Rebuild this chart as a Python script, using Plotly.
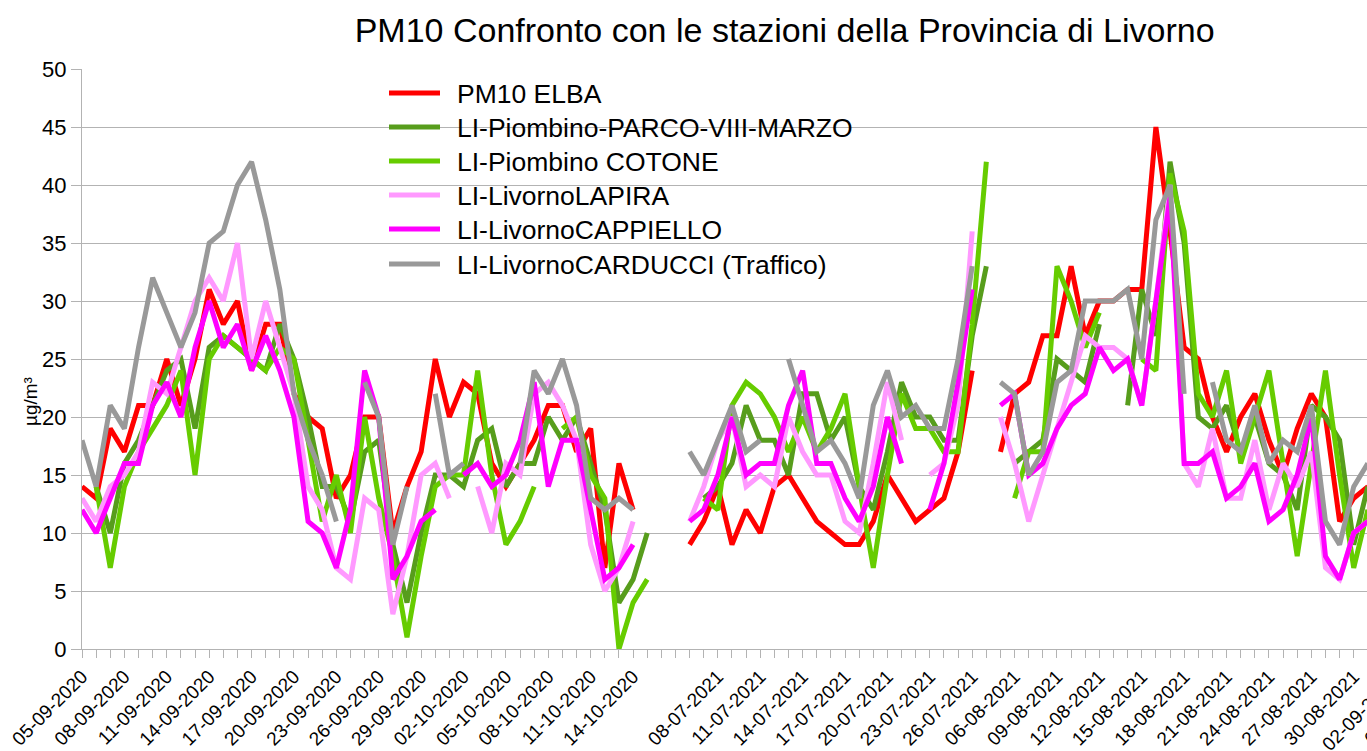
import pandas as pd
import plotly.graph_objects as go

# ---- categories (daily), with two blank slots between 2020 and 2021 ----
seg1 = [d.strftime("%d-%m-%Y") for d in pd.date_range("2020-09-05", "2020-10-15")]
seg2 = [d.strftime("%d-%m-%Y") for d in pd.date_range("2021-07-06", "2021-07-27")]
seg3 = [d.strftime("%d-%m-%Y") for d in pd.date_range("2021-08-05", "2021-09-05")]
categories = seg1 + ["", ""] + seg2 + seg3
N = 92  # categories with data

N_ = None
elba = [14, 13, 19, 17, 21, 21, 25, 21, 25, 31,
        28, 30, 24, 28, 28, 22, 20, 19, 13, 15,
        20, 20, 10, 14, 17, 25, 20, 23, 22, 16,
        14, 16, 18, 21, 21, 17, 19, 7, 16, 12,
        N_, N_, N_,
        9, 11, 14, 9, 12, 10, 14, 15, 13, 11,
        10, 9, 9, 11, 15, 13, 11, 12, 13, 17, 24, N_,
        17, 22, 23, 27, 27, 33, 27, 30, 30, 31,
        31, 45, 36, 26, 25, 20, 17, 20, 22, 18,
        15, 19, 22, 20, 11, 13, 14]
parco = [N_, 14, 10, 16, 18, 21, 24, 25, 19, 26,
         27, 26, 25, 24, 28, 25, 20, 14, 14, 11,
         17, 18, 9, 4, 10, 15, 15, 14, 18, 19,
         14, 16, 16, 20, 18, 20, 16, 12, 4, 6,
         10, N_, N_,
         N_, 13, 14, 16, 21, 18, 18, 15, 22, 22,
         18, 20, 14, 12, 17, 23, 20, 20, 18, 18, 27, 33,
         N_, 16, 17, 18, 25, 24, 23, 28, N_, 21,
         31, 27, 42, 35, 20, 19, 21, 17, 20, 16,
         15, 12, 21, 20, 18, 9, 14]
cotone = [N_, 14, 7, 14, 17, 19, 21, 24, 15, 25,
          27, 26, 25, 24, 26, 25, 18, 11, 15, 10,
          20, 13, 8, 1, 8, 14, 15, 15, 24, 15,
          9, 11, 14, N_, 19, 20, 15, 13, 0, 4,
          6, N_, N_,
          N_, 13, 12, 21, 23, 22, 20, 17, 20, 17,
          19, 22, 14, 7, 15, 22, 19, 19, 17, 17, 28, 42,
          N_, 13, 17, 17, 33, 30, 26, 29, N_, N_,
          25, 24, 41, 36, 22, 20, 24, 16, 20, 24,
          16, 8, 16, 24, 15, 7, 12]
lapira = [13, 11, 14, 15, 17, 23, 22, 26, 30, 32,
          30, 35, 25, 30, 26, 22, 14, 12, 7, 6,
          13, 12, 3, 8, 15, 16, 13, N_, 14, 10,
          16, 15, 22, 23, 21, 18, 9, 5, 7, 11,
          N_, N_, N_,
          11, 14, 18, 20, 14, 15, 14, 20, 17, 15,
          15, 11, 10, 16, 23, 18, N_, 15, 16, 21, 36, N_,
          20, 16, 11, 15, 19, 23, 27, 26, 26, 25,
          21, 30, 40, 16, 14, 19, 13, 13, 18, 12,
          16, 14, 17, 7, 6, 10, 11]
cappiello = [12, 10, 13, 16, 16, 21, 23, 20, 26, 30,
             26, 28, 24, 27, 24, 20, 11, 10, 7, 12,
             24, 20, 6, 8, 11, 12, N_, 15, 16, 14,
             15, 18, 23, 14, 18, 18, 12, 6, 7, 9,
             N_, N_, N_,
             11, 12, 15, 20, 15, 16, 16, 21, 24, 16,
             16, 13, 11, 14, 20, 16, N_, 12, 16, 23, 31, N_,
             21, 22, 15, 16, 19, 21, 22, 26, 24, 25,
             21, 30, 39, 16, 16, 17, 13, 14, 16, 11,
             12, 15, 20, 8, 6, 10, 11]
carducci = [18, 14, 21, 19, 26, 32, 29, 26, 29, 35,
            36, 40, 42, 37, 31, 22, 18, 15, 11, N_,
            23, 20, 9, 14, N_, 22, 15, 16, N_, N_,
            N_, 16, 24, 22, 25, 21, 13, 12, 13, 12,
            N_, N_, N_,
            17, 15, 18, 21, 17, 18, N_, 25, 21, 17,
            18, 16, 13, 21, 24, 20, 21, 19, 19, 25, 33, N_,
            23, 22, 15, 17, 23, 24, 30, 30, 30, 31,
            25, 37, 40, 22, N_, 23, 18, 17, 21, 16,
            18, 17, 21, 11, 9, 14, 16]

series_names = ["PM10 ELBA", "LI-Piombino-PARCO-VIII-MARZO", "LI-Piombino COTONE",
                "LI-LivornoLAPIRA", "LI-LivornoCAPPIELLO", "LI-LivornoCARDUCCI (Traffico)"]
series_values = [elba, parco, cotone, lapira, cappiello, carducci]
series_colors = ["#ff0000", "#579d1c", "#66cc00", "#ff99ff", "#ff00ff", "#999999"]

FONT = "Liberation Sans, Arial, sans-serif"
x_idx = list(range(N))

fig = go.Figure()
for name, vals, col in zip(series_names, series_values, series_colors):
    fig.add_trace(go.Scatter(
        x=x_idx, y=vals, name=name, mode="lines",
        line=dict(color=col, width=5), connectgaps=False, showlegend=False,
    ))

X0, X1 = 0, 90.94
tickvals = list(range(N))
ticktext = [categories[k] if (k % 3 == 0) else "" for k in range(N)]

# plot-area geometry (pixels) used to place legend / extra labels
L, R, T, B = 82, 0, 69, 102
W, H = 1367, 751
PW, PH = W - L - R, H - T - B


def px_x(px):
    return (px - L) / PW


def px_y(py):
    return (H - B - py) / PH


fig.update_layout(
    width=W, height=H,
    margin=dict(l=L, r=R, t=T, b=B),
    paper_bgcolor="white", plot_bgcolor="white",
    font=dict(family=FONT, color="black"),
    title=dict(text="PM10 Confronto con le stazioni della Provincia di Livorno",
               x=0.574, xanchor="center", y=0.96, yanchor="middle",
               font=dict(size=34, family=FONT, color="black")),
    showlegend=False,
    xaxis=dict(range=[X0, X1], tickmode="array", tickvals=tickvals, ticktext=ticktext,
               tickangle=-45, ticks="outside", ticklen=8, tickcolor="#b3b3b3",
               showgrid=False, showline=True, linecolor="#b3b3b3", linewidth=1,
               tickfont=dict(size=19, family=FONT, color="black"), zeroline=False),
    yaxis=dict(range=[0, 50], tick0=0, dtick=5, ticks="outside", ticklen=10,
               tickcolor="#b3b3b3", showgrid=True, gridcolor="#b3b3b3", gridwidth=1,
               showline=True, linecolor="#b3b3b3", zeroline=False,
               tickfont=dict(size=22, family=FONT, color="black")),
)

# y-axis title
fig.add_annotation(xref="paper", yref="paper", x=px_x(30), y=px_y(402), text="µg/m³",
                   showarrow=False, textangle=-90, xanchor="center", yanchor="middle",
                   font=dict(size=19, family=FONT, color="black"))

# legend (inside the plot, top-left)
legend_rows = [93, 127, 161, 195, 229, 264]
for name, col, ry in zip(series_names, series_colors, legend_rows):
    fig.add_shape(type="line", xref="paper", yref="paper",
                  x0=px_x(389), x1=px_x(440), y0=px_y(ry), y1=px_y(ry),
                  line=dict(color=col, width=5))
    fig.add_annotation(xref="paper", yref="paper", x=px_x(455), y=px_y(ry + 1),
                       text=name, showarrow=False, xanchor="left", yanchor="middle",
                       font=dict(size=26.5, family=FONT, color="black"))

# labels of categories just past the right edge (partially visible, cut by the frame)
for k, cy in ((93, 713), (96, 707)):
    cx = L + (k - X0) / (X1 - X0) * PW - 37
    fig.add_annotation(xref="paper", yref="paper", x=px_x(cx), y=px_y(cy),
                       text=categories[k], showarrow=False, textangle=-45,
                       xanchor="center", yanchor="middle",
                       font=dict(size=19, family=FONT, color="black"))

fig.write_html("out.html", config={"displayModeBar": False},
               post_script="document.body.style.margin='0';")
